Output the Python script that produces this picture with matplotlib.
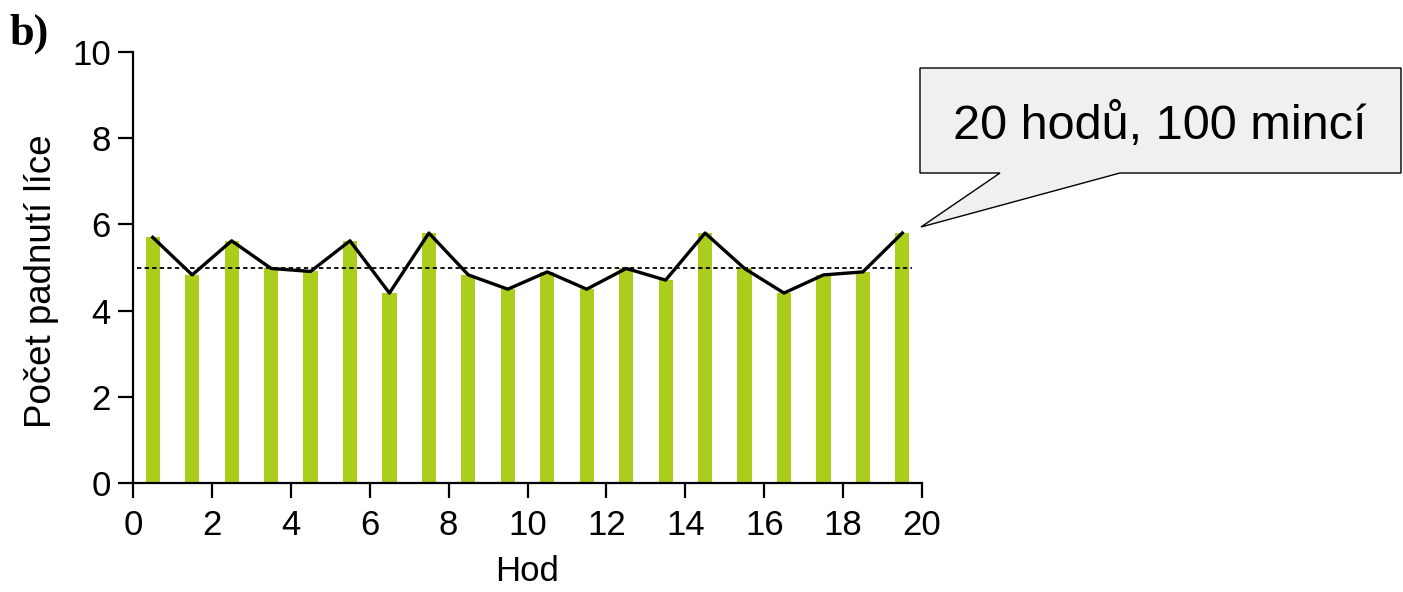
import matplotlib.pyplot as plt
from matplotlib.patches import Polygon

plt.rcParams['font.family'] = ['Liberation Sans', 'DejaVu Sans']

# pocet lic v kazdem hodu
hody = [i + 0.5 for i in range(20)]
lice = [5.7, 4.83, 5.62, 4.98, 4.91, 5.62, 4.41, 5.8, 4.83, 4.5,
        4.9, 4.5, 4.98, 4.71, 5.8, 4.98, 4.41, 4.83, 4.9, 5.8]
prumer = 5.0

fig = plt.figure(figsize=(14.03, 5.92), dpi=100)
ax = fig.add_axes([0.0948, 0.1833, 0.5624, 0.7294])

ax.bar(hody, lice, width=0.36, color='#abcd1c', zorder=1)
ax.plot(hody, lice, color='black', lw=2.4, zorder=3)
ax.plot([0.1, 19.75], [prumer, prumer], color='black', lw=1.3,
        ls=(0, (2.4, 1.8)), zorder=2)

ax.set_xlim(0, 20)
ax.set_ylim(0, 10)
ax.set_xticks(range(0, 21, 2))
ax.set_yticks(range(0, 11, 2))
ax.spines['top'].set_visible(False)
ax.spines['right'].set_visible(False)
for s in ['left', 'bottom']:
    ax.spines[s].set_linewidth(1.6)
ax.tick_params(direction='out', length=10.5, width=1.6, labelsize=25)
ax.tick_params(axis='x', pad=8)
ax.tick_params(axis='y', pad=5.5)
ax.set_xlabel('Hod', fontsize=25, labelpad=9)
ax.set_ylabel('Počet padnutí líce', fontsize=26.5)
ax.yaxis.set_label_coords(-0.094, 0.469)

fig.text(0.007, 0.925, 'b)', fontsize=32, fontweight='bold',
         family='Liberation Serif')

# bublina s popiskem
W, H = 1403, 592
pts = [(920, 68), (1401, 68), (1401, 173), (1120, 173), (921, 227),
       (1000, 173), (920, 173)]
pts = [(x / W, 1 - y / H) for x, y in pts]
fig.patches.append(Polygon(pts, closed=True, transform=fig.transFigure,
                           facecolor='#f0f0f0', edgecolor='black', lw=1.0))
fig.text(1160 / W, 1 - 126 / H, '20 hodů, 100 mincí', fontsize=35,
         ha='center', va='center')

fig.savefig('out.png', dpi=100, facecolor='white')
